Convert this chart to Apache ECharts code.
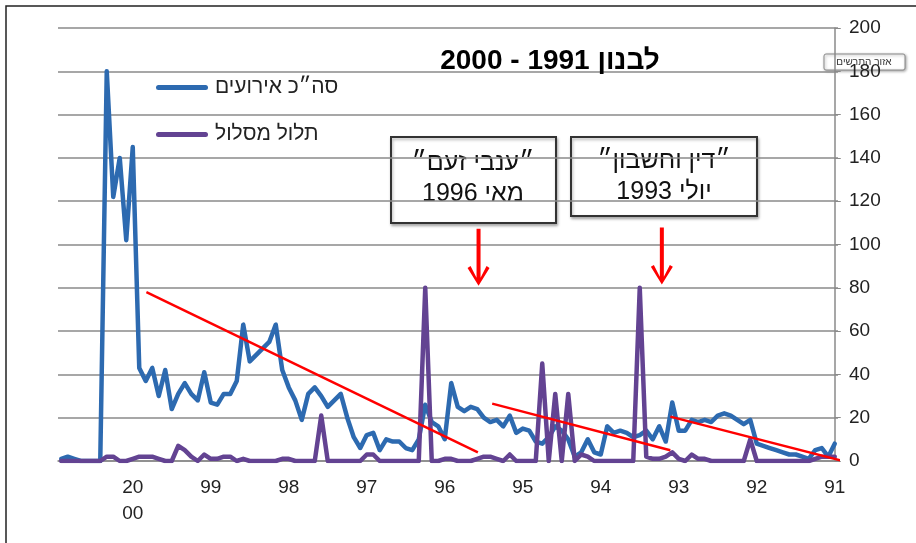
<!DOCTYPE html>
<html>
<head>
<meta charset="utf-8">
<script src="https://cdn.jsdelivr.net/npm/echarts@6/dist/echarts.min.js"></script>
<style>
  html, body { margin: 0; padding: 0; background: #ffffff; }
  #graph { width: 916px; height: 543px; }
</style>
</head>
<body>
<div id="graph"></div>
<script>
// שנים ותוויות ציר
const years = [1991, 1992, 1993, 1994, 1995, 1996, 1997, 1998, 1999, 2000];
const yearLabels = ['91', '92', '93', '94', '95', '96', '97', '98', '99', '20\n00'];

// נתונים חודשיים, ינואר 1991 עד דצמבר 2000
const totalEvents = [
  8, 2, 6, 5, 1, 2, 3, 3, 4, 5, 6, 7,
  8, 19, 17, 19, 21, 22, 21, 18, 19, 18, 19, 14,
  14, 27, 9, 16, 10, 14, 12, 11, 13, 14, 13, 16,
  3, 4, 10, 4, 2, 10, 14, 16, 11, 8, 9, 14,
  15, 13, 21, 16, 19, 18, 20, 24, 25, 23, 25, 36,
  10, 16, 18, 26, 10, 5, 6, 9, 9, 10, 5, 13,
  12, 6, 11, 20, 31, 28, 25, 30, 34, 31, 19, 28,
  34, 42, 63, 55, 52, 49, 46, 63, 37, 31, 31, 26,
  27, 41, 28, 31, 36, 31, 24, 42, 30, 43, 37, 43,
  145, 102, 140, 122, 180, 0, 0, 0, 0, 1, 2, 1
];
const curvedFire = [
  2, 2, 2, 1, 0, 0, 0, 0, 0, 0, 0, 0,
  0, 10, 0, 0, 0, 0, 0, 0, 1, 1, 3, 0,
  1, 4, 2, 1, 1, 2, 80, 0, 0, 0, 0, 0,
  0, 0, 2, 3, 0, 31, 0, 31, 0, 45, 0, 0,
  0, 0, 3, 0, 1, 2, 2, 1, 0, 0, 0, 1,
  1, 0, 0, 80, 0, 0, 0, 0, 0, 0, 0, 3,
  3, 0, 0, 0, 0, 0, 0, 21, 0, 0, 0, 0,
  1, 1, 0, 0, 0, 0, 0, 1, 0, 2, 2, 1,
  1, 3, 0, 2, 5, 7, 0, 0, 1, 2, 2, 2,
  1, 0, 0, 2, 2, 0, 0, 0, 0, 0, 0, 0
];

// קווי מגמה: [אינדקס חודש, ערך]
const trendA = [[105.9, 78], [54.9, 4]];
const trendB = [[52.7, 26.5], [25.3, 5]];
const trendC = [[25.3, 20.5], [-1.3, 0]];
// חיצים מתחת לתיבות
const arrowTips = [[54.8, 81], [26.6, 81.5]];

const months = [];
years.forEach(function (y) {
  for (let m = 1; m <= 12; m++) months.push(y + '-' + m);
});

const FONT = 'Liberation Sans';
const rtl = function (s) { return '\u202B' + s + '\u202C'; };

const chartDom = document.getElementById('graph');
const myChart = echarts.init(chartDom);

const trendStyle = { color: '#ff0000', width: 2.5 };
const capsule = 'path://M2.5,0 L49.5,0 A2.5,2.5 0 0 1 49.5,5 L2.5,5 A2.5,2.5 0 0 1 2.5,0 Z';

const option = {
  animation: false,
  grid: { left: 58, right: 78, top: 28, bottom: 82 },
  legend: {
    data: [
      { name: 'סה״כ אירועים', icon: capsule },
      { name: 'תלול מסלול', icon: capsule },
    ],
    orient: 'vertical',
    left: 151,
    top: 72,
    itemWidth: 52,
    itemHeight: 5,
    itemGap: 26,
    textStyle: { fontFamily: FONT, fontSize: 21, color: '#222', padding: [0, 0, 0, 2] },
  },
  xAxis: [
    {
      type: 'category',
      data: months,
      inverse: true,
      boundaryGap: true,
      axisLine: { lineStyle: { color: '#8a8a8a', width: 1.5 } },
      axisTick: { interval: 0, length: 5, lineStyle: { color: '#8a8a8a' } },
      axisLabel: {
        interval: function (idx) { return idx % 12 === 0; },
        formatter: function (val, idx) { return yearLabels[Math.floor(idx / 12)]; },
        fontFamily: FONT,
        fontSize: 19,
        color: '#222',
        lineHeight: 26,
        margin: 14,
        verticalAlign: 'top',
      },
      splitLine: { show: false },
    },
    { type: 'value', min: -0.5, max: 119.5, inverse: true, show: false },
  ],
  yAxis: {
    type: 'value',
    position: 'right',
    min: 0,
    max: 200,
    interval: 20,
    axisLine: { show: true, lineStyle: { color: '#8a8a8a', width: 1.5 } },
    axisTick: { show: true, length: 6, lineStyle: { color: '#8a8a8a' } },
    axisLabel: { fontFamily: FONT, fontSize: 19, color: '#222', margin: 11 },
    splitLine: { lineStyle: { color: '#8a8a8a', width: 1.5 } },
  },
  series: [
    {
      name: 'סה״כ אירועים',
      type: 'line',
      data: totalEvents,
      symbol: 'none',
      lineStyle: { color: '#2d6ab0', width: 4.5, cap: 'round', join: 'round' },
      itemStyle: { color: '#2d6ab0' },
      z: 2,
    },
    {
      name: 'תלול מסלול',
      type: 'line',
      data: curvedFire,
      symbol: 'none',
      lineStyle: { color: '#634392', width: 4.5, cap: 'round', join: 'round' },
      itemStyle: { color: '#634392' },
      z: 3,
    },
    {
      name: 'trendA',
      type: 'line',
      xAxisIndex: 1,
      data: trendA,
      symbol: 'none',
      clip: false,
      lineStyle: trendStyle,
      z: 4,
      markPoint: {
        symbol: 'path://M9,0 L13,0 L13,50 L19,38 L22,40 L11,58 L0,40 L3,38 L9,50 Z',
        symbolSize: [22, 57],
        symbolOffset: [0, '-50%'],
        itemStyle: { color: '#ff0000' },
        label: { show: false },
        data: arrowTips.map(function (p) { return { coord: p }; }),
      },
    },
    {
      name: 'trendB',
      type: 'line',
      xAxisIndex: 1,
      data: trendB,
      symbol: 'none',
      clip: false,
      lineStyle: trendStyle,
      z: 4,
    },
    {
      name: 'trendC',
      type: 'line',
      xAxisIndex: 1,
      data: trendC,
      symbol: 'none',
      clip: false,
      lineStyle: trendStyle,
      z: 4,
    },
  ],
  graphic: [
    {
      type: 'rect',
      shape: { x: 6, y: 6, width: 1000, height: 1000 },
      style: { fill: 'none', stroke: '#222', lineWidth: 1.5 },
      silent: true,
    },
    {
      type: 'text',
      x: 550,
      y: 61,
      z: 100,
      style: {
        text: rtl('לבנון 1991 - 2000'),
        fontFamily: FONT,
        fontSize: 28,
        fontWeight: 'bold',
        fill: '#000',
        align: 'center',
        verticalAlign: 'middle',
      },
    },
    {
      type: 'group',
      z: 100,
      children: [
        {
          type: 'rect',
          shape: { x: 391, y: 137, width: 165, height: 86 },
          style: { fill: '#fff', stroke: '#333', lineWidth: 2, shadowBlur: 3, shadowColor: 'rgba(0,0,0,0.3)', shadowOffsetX: 1, shadowOffsetY: 2 },
        },
        {
          type: 'text', x: 473, y: 163,
          style: { text: rtl('״ענבי זעם״'), fontFamily: FONT, fontSize: 25, fill: '#111', align: 'center', verticalAlign: 'middle' },
        },
        {
          type: 'text', x: 473, y: 194,
          style: { text: rtl('מאי 1996'), fontFamily: FONT, fontSize: 25, fill: '#111', align: 'center', verticalAlign: 'middle' },
        },
      ],
    },
    {
      type: 'group',
      z: 100,
      children: [
        {
          type: 'rect',
          shape: { x: 571, y: 137, width: 186, height: 79 },
          style: { fill: '#fff', stroke: '#333', lineWidth: 2, shadowBlur: 3, shadowColor: 'rgba(0,0,0,0.3)', shadowOffsetX: 1, shadowOffsetY: 2 },
        },
        {
          type: 'text', x: 664, y: 161,
          style: { text: rtl('״דין וחשבון״'), fontFamily: FONT, fontSize: 25, fill: '#111', align: 'center', verticalAlign: 'middle' },
        },
        {
          type: 'text', x: 664, y: 192,
          style: { text: rtl('יולי 1993'), fontFamily: FONT, fontSize: 25, fill: '#111', align: 'center', verticalAlign: 'middle' },
        },
      ],
    },
    {
      type: 'group',
      z: 101,
      children: [
        {
          type: 'rect',
          shape: { x: 824, y: 54, width: 81, height: 16, r: 2 },
          style: { fill: '#fff', stroke: '#8a8a8a', lineWidth: 1, shadowBlur: 3, shadowColor: 'rgba(0,0,0,0.35)', shadowOffsetX: 1, shadowOffsetY: 1 },
        },
        {
          type: 'text', x: 864, y: 62,
          style: { text: 'אזור התרשים', fontFamily: FONT, fontSize: 10, fill: '#333', align: 'center', verticalAlign: 'middle' },
        },
      ],
    },
  ],
};

myChart.setOption(option);
</script>
</body>
</html>
